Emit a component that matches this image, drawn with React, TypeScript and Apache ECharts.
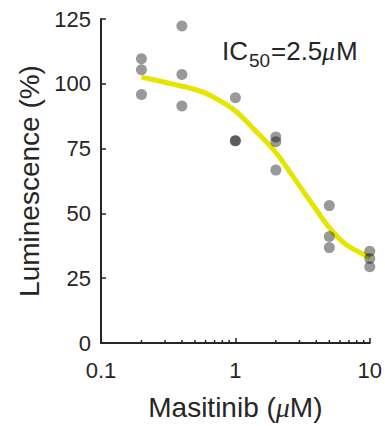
import React, { useEffect, useRef } from "react";
import * as echarts from "echarts";

// Doses (µM) and the three replicate luminescence readings (%)
const doses = [0.2, 0.4, 1, 2, 5, 10];
const replicateA = [109.7, 122.3, 94.6, 79.5, 53.0, 35.4];
const replicateB = [105.4, 103.6, 78.0, 77.6, 41.1, 32.6];
const replicateC = [95.9, 91.4, 78.0, 66.7, 36.8, 29.4];

// Dose-response fit, sampled along the dose axis
const fitDoses = [0.2, 0.5, 0.7, 1, 1.38, 2, 3, 4, 5, 6.65, 10];
const fitValues = [102.6, 97.8, 94.6, 89.5, 82.4, 73.5, 60.6, 51.4, 44.5, 38.0, 33.0];

// Minor ticks on the logarithmic dose axis
const minorTickDoses = [0.2, 0.3, 0.4, 0.5, 0.6, 0.7, 0.8, 0.9, 2, 3, 4, 5, 6, 7, 8, 9];

const FONT = "Liberation Sans, Arial, Helvetica, sans-serif";
const INK = "#262626";

// Catmull-Rom spline through pixel points, written as cubic Bézier path data
function splinePath(pts: number[][]): string {
  let d = `M${pts[0][0]},${pts[0][1]}`;
  for (let i = 0; i < pts.length - 1; i++) {
    const p0 = pts[Math.max(i - 1, 0)];
    const p1 = pts[i];
    const p2 = pts[i + 1];
    const p3 = pts[Math.min(i + 2, pts.length - 1)];
    const c1x = p1[0] + (p2[0] - p0[0]) / 6;
    const c1y = p1[1] + (p2[1] - p0[1]) / 6;
    const c2x = p2[0] - (p3[0] - p1[0]) / 6;
    const c2y = p2[1] - (p3[1] - p1[1]) / 6;
    d += ` C${c1x},${c1y} ${c2x},${c2y} ${p2[0]},${p2[1]}`;
  }
  return d;
}

export default function App() {
  const ref = useRef<HTMLDivElement>(null);

  useEffect(() => {
    if (!ref.current) return;
    const chart = echarts.init(ref.current, undefined, { renderer: "svg" });

    const points: number[][] = [];
    [replicateA, replicateB, replicateC].forEach((rep) =>
      rep.forEach((v, i) => points.push([doses[i], v]))
    );

    const labelText = (x: number, y: number, text: string, size: number, italic = false) => ({
      type: "text",
      x,
      y,
      style: {
        text,
        fill: INK,
        fontSize: size,
        fontStyle: italic ? "italic" : "normal",
        fontFamily: italic ? "Liberation Serif, serif" : FONT,
        textVerticalAlign: "alphabetic",
        verticalAlign: "alphabetic",
      },
    });

    chart.setOption({
      animation: false,
      backgroundColor: "#ffffff",
      textStyle: { fontFamily: FONT },
      grid: { left: 101, right: 15, top: 19, bottom: 81, containLabel: false },
      xAxis: {
        type: "log",
        logBase: 10,
        min: 0.1,
        max: 10,
        axisLine: { show: true, lineStyle: { color: INK, width: 2 } },
        axisTick: { show: true, inside: true, length: 5, lineStyle: { color: INK, width: 1.5 } },
        splitLine: { show: false },
        axisLabel: {
          fontSize: 22,
          color: INK,
          margin: 16,
          fontFamily: FONT,
          formatter: (v: number) => String(v),
        },
        name: "Masitinib ({mu|μ}M)",
        nameLocation: "middle",
        nameGap: 50,
        nameTextStyle: {
          fontSize: 28,
          color: INK,
          fontFamily: FONT,
          rich: {
            mu: { fontSize: 28, fontStyle: "italic", fontFamily: "Liberation Serif, serif", color: INK },
          },
        },
      },
      yAxis: {
        type: "value",
        min: 0,
        max: 125,
        interval: 25,
        axisLine: { show: true, lineStyle: { color: INK, width: 2 } },
        axisTick: { show: true, inside: true, length: 5, lineStyle: { color: INK, width: 1.5 } },
        splitLine: { show: false },
        axisLabel: { fontSize: 22, color: INK, margin: 10, fontFamily: FONT },
        name: "Luminescence (%)",
        nameLocation: "middle",
        nameGap: 56,
        nameTextStyle: { fontSize: 28, color: INK, fontFamily: FONT },
      },
      graphic: [
        {
          type: "group",
          left: 222,
          top: 38,
          children: [
            labelText(0, 19, "IC", 26),
            labelText(27, 32, "50", 19),
            labelText(49, 19, "=2.5", 26),
            labelText(100, 19, "μ", 26, true),
            labelText(114, 19, "M", 26),
          ],
        },
      ],
      series: [
        {
          // fitted dose-response curve
          type: "custom",
          data: fitDoses.map((d, i) => [d, fitValues[i]]),
          silent: true,
          z: 2,
          renderItem: (params: any, api: any) => {
            if (params.dataIndex !== 0) return null;
            const px = fitDoses.map((d, i) => api.coord([d, fitValues[i]]));
            return {
              type: "path",
              shape: { pathData: splinePath(px) },
              style: { stroke: "#e5e500", lineWidth: 5, fill: "none" },
            };
          },
        },
        {
          type: "scatter",
          data: points,
          symbol: "circle",
          symbolSize: 11,
          itemStyle: { color: "rgba(0,0,0,0.5)" },
          z: 3,
        },
        {
          type: "custom",
          data: minorTickDoses.map((d) => [d, 0]),
          silent: true,
          z: 4,
          renderItem: (_params: any, api: any) => {
            const p = api.coord([api.value(0), 0]);
            return {
              type: "line",
              shape: { x1: p[0], y1: p[1], x2: p[0], y2: p[1] - 3 },
              style: { stroke: INK, lineWidth: 1.5 },
            };
          },
        },
      ],
    });

    return () => chart.dispose();
  }, []);

  return (
    <div
      ref={ref}
      style={{ position: "fixed", left: 0, top: 0, width: 385, height: 426, background: "#fff" }}
    />
  );
}
